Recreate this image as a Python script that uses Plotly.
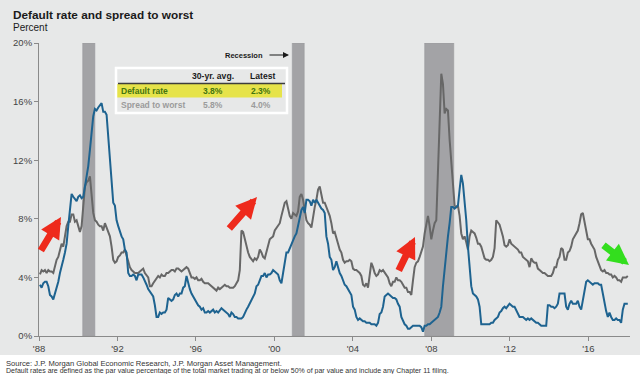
import pandas as pd
import plotly.graph_objects as go

# ---------------- data (percent) ----------------
default_rate = [
    3.5, 3.3, 3.6, 3.7, 3.7, 3.4, 2.8, 2.7, 2.5, 2.9, 3.4, 3.7, 4.3, 4.7, 5.2, 5.7, 6.3, 7.5, 8.4, 9.7,
    9.5, 9.3, 9.2, 9.5, 9.6, 9.4, 9.5, 10.2, 10.9, 11.6, 12.7, 13.8, 15.0, 15.5, 15.4, 15.6, 15.8, 15.9, 15.3, 15.3,
    15.1, 13.6, 12.0, 10.6, 9.1, 8.9, 7.9, 7.5, 7.1, 6.8, 6.6, 5.9, 5.7, 4.3, 4.1, 4.1, 4.2, 4.1,
    3.8, 4.2, 4.2, 4.2, 4.0, 3.8, 3.5, 3.2, 3.0, 2.9, 2.7, 2.1, 1.3, 1.3, 1.6, 1.5, 1.6, 1.6, 1.8, 2.6,
    2.5, 2.4, 2.5, 2.8, 2.9, 2.7, 2.9, 2.9, 3.3, 3.4, 4.1, 3.6, 3.2, 2.9, 2.7, 2.5, 2.2, 2.1, 2.0, 1.8,
    1.9, 1.6, 1.6, 1.7, 1.6, 1.7, 1.8, 1.6, 1.7, 1.6, 1.8, 1.9, 1.8, 1.7, 1.6, 1.5, 1.3,
    1.6, 1.5, 1.3, 1.3, 1.2, 1.2, 1.2, 1.3, 1.6, 1.8, 2.0, 2.2, 2.5, 2.7, 2.9, 3.4, 3.5, 3.8, 4.1, 4.1,
    4.3, 4.0, 4.2, 4.2, 4.3, 4.5, 4.4, 4.3, 4.2, 3.8, 3.6, 4.3, 5.0, 5.7, 5.7, 6.0, 6.3, 6.6, 6.8, 7.0,
    7.5, 7.9, 8.6, 8.8, 8.4, 9.3, 9.3, 9.2, 8.9, 9.3, 9.1, 9.3, 9.1, 8.8, 8.7, 8.6, 8.4,
    6.8, 6.3, 5.4, 5.2, 4.5, 4.7, 5.1, 4.7, 4.3, 4.1, 3.8, 3.5, 3.4, 3.2, 2.9, 2.8, 2.0, 1.8, 1.3, 1.1,
    1.2, 1.1, 1.0, 1.0, 0.9, 0.9, 0.9, 0.8, 0.8, 0.8, 0.7, 0.9, 1.5, 1.6, 2.0, 2.7, 2.8, 2.9, 2.8, 2.7,
    2.6, 2.6, 2.5, 2.2, 2.0, 1.3, 1.0, 0.8, 0.7, 0.5, 0.5, 0.6, 0.7, 0.7, 0.7, 0.7, 0.7,
    0.6, 0.3, 0.7, 0.7, 0.8, 0.8, 0.9, 1.0, 1.1, 1.2, 1.3, 1.6, 2.0, 3.4, 4.7, 5.7, 6.8, 7.7, 8.8, 8.8,
    8.7, 8.8, 8.9, 10.0, 11.0, 10.4, 9.3, 7.9, 6.1, 4.5, 3.4, 2.9, 2.8, 2.7, 2.5, 2.0, 0.8, 0.8, 0.8, 0.8,
    0.8, 0.8, 0.9, 0.9, 1.1, 1.2, 1.3, 1.6, 1.7, 1.9, 2.0, 1.9, 2.1, 2.2, 2.1, 2.0, 2.0,
    1.8, 1.6, 1.3, 1.3, 1.3, 1.2, 1.1, 1.2, 1.1, 1.2, 1.1, 1.0, 0.9, 0.9, 0.8, 0.7, 0.7, 0.7, 0.7, 2.1,
    2.1, 2.0, 2.0, 1.9, 2.0, 2.2, 2.9, 2.9, 2.9, 2.9, 2.0, 1.8, 2.2, 2.4, 2.2, 2.2, 2.2, 2.4, 2.0, 1.8,
    2.5, 3.2, 3.7, 3.8, 3.7, 3.6, 3.5, 3.6, 3.6, 3.6, 3.5, 3.5, 2.9, 2.2, 1.7, 1.3, 1.6, 1.3, 1.1, 1.1,
    1.2, 1.1, 1.1, 0.9, 1.8, 2.2, 2.2, 2.2,
]

spread_to_worst = [
    4.2, 4.5, 4.4, 4.5, 4.3, 4.5, 4.4, 4.4, 4.3, 4.7, 5.2, 5.4, 5.9, 6.3, 6.1, 7.0, 7.5, 7.8, 7.8, 8.3,
    8.3, 7.8, 7.9, 7.5, 7.1, 7.5, 8.8, 10.2, 10.5, 10.6, 10.9, 9.5, 8.4, 7.9, 7.8, 7.6, 7.5, 7.5, 7.2, 7.7,
    7.4, 7.0, 6.8, 6.1, 5.2, 5.0, 5.1, 5.4, 5.5, 5.7, 5.7, 5.9, 5.5, 5.2, 4.7, 4.5, 4.4, 4.3,
    4.3, 4.3, 4.4, 4.5, 4.6, 4.3, 4.1, 4.0, 3.4, 3.4, 3.6, 3.8, 4.0, 4.1, 4.0, 4.2, 4.1, 4.1, 4.3, 4.3,
    4.4, 4.5, 4.5, 4.4, 4.6, 4.6, 4.5, 4.4, 4.5, 4.6, 4.7, 4.6, 4.3, 4.0, 4.0, 3.9, 4.0, 3.8, 3.8, 3.9,
    3.7, 3.6, 3.6, 3.6, 3.5, 3.4, 3.3, 3.2, 3.1, 3.3, 3.2, 3.3, 3.4, 3.5, 3.4, 3.4, 3.3,
    3.3, 3.3, 3.4, 3.6, 3.8, 4.5, 7.2, 7.1, 6.6, 6.1, 5.7, 5.4, 5.2, 5.1, 5.3, 5.2, 5.4, 5.9, 5.7, 5.4,
    5.3, 5.7, 6.1, 6.6, 6.7, 6.8, 7.2, 7.4, 7.5, 7.7, 8.2, 8.7, 9.1, 9.2, 8.6, 8.2, 8.0, 8.4, 8.3, 8.2,
    8.5, 9.5, 9.7, 9.3, 8.6, 7.9, 7.7, 7.6, 7.4, 8.2, 8.8, 9.3, 10.0, 10.2, 9.7, 9.1, 9.1,
    8.8, 8.6, 8.2, 7.7, 7.0, 7.1, 6.7, 6.3, 5.9, 5.7, 5.2, 5.0, 5.1, 5.1, 5.2, 5.1, 4.6, 4.5, 4.5, 4.4,
    4.3, 4.1, 3.5, 3.4, 3.6, 3.3, 4.1, 5.0, 4.7, 4.3, 4.1, 4.2, 4.5, 4.4, 4.5, 4.3, 4.1, 4.0, 3.6, 3.4,
    3.7, 3.7, 4.0, 3.8, 3.8, 3.7, 3.5, 3.3, 3.3, 3.0, 3.0, 2.8, 3.8, 4.7, 5.0, 5.1, 5.4,
    5.7, 6.1, 7.0, 7.7, 8.2, 7.5, 6.6, 7.2, 7.7, 7.9, 11.1, 14.9, 17.9, 17.2, 15.2, 15.5, 15.4, 13.4, 11.8, 10.6,
    8.9, 8.8, 8.9, 8.2, 7.0, 6.6, 6.8, 6.4, 5.9, 6.8, 7.2, 7.1, 7.0, 6.7, 6.3, 6.3, 6.1, 5.7, 5.3, 5.2,
    5.2, 5.1, 5.2, 5.4, 6.0, 7.9, 7.7, 7.6, 7.2, 6.8, 6.2, 6.1, 6.2, 6.6, 6.3, 6.2, 6.1,
    6.0, 5.9, 5.7, 5.7, 5.4, 5.3, 5.2, 5.1, 4.7, 5.3, 5.1, 5.0, 5.0, 4.6, 4.5, 4.4, 4.3, 4.3, 4.2, 4.1,
    4.1, 4.1, 4.3, 4.7, 4.7, 5.2, 5.4, 6.0, 5.9, 5.2, 5.2, 5.7, 5.8, 6.1, 6.6, 6.8, 7.1, 7.2, 7.7, 8.3,
    8.4, 7.9, 7.2, 6.6, 6.6, 6.3, 6.1, 5.9, 5.4, 5.1, 4.7, 4.5, 4.4, 4.5, 4.3, 4.3, 4.2, 4.2, 4.0, 4.1,
    4.0, 3.8, 3.8, 3.7, 4.0, 4.0, 4.0, 4.1,
]

obs_dates = pd.date_range("1988-01-19", periods=len(default_rate), freq="31D")

recession_starts = ["1990-03-25", "2000-11-28", "2007-08-29"]
recession_ends = ["1990-11-06", "2001-07-08", "2009-02-20"]

x_tick_dates = ["1988-01-01", "1992-01-01", "1996-01-01", "2000-01-01",
                "2004-01-01", "2008-01-01", "2012-01-01", "2016-01-01"]
x_tick_labels = ["'88", "'92", "'96", "'00", "'04", "'08", "'12", "'16"]
y_tick_values = [0, 4, 8, 12, 16, 20]
y_tick_labels = ["0%", "4%", "8%", "12%", "16%", "20%"]

table_header = ["30-yr. avg.", "Latest"]
table_series = ["Default rate", "Spread to worst"]
table_avg = ["3.8%", "5.8%"]
table_latest = ["2.3%", "4.0%"]

source_text = "Source: J.P. Morgan Global Economic Research, J.P. Morgan Asset Management."
note_text = ("Default rates are defined as the par value percentage of the total market trading "
             "at or below 50% of par value and include any Chapter 11 filing.")

# ---------------- layout helpers ----------------
W, H = 640, 374
L, R, T, B = 39, 10, 43, 38
PW, PH = W - L - R, H - T - B
FONT = "Arial, Liberation Sans, sans-serif"
BG = "#e7e8e8"


def xp(px):
    return (px - L) / PW


def yp(py):
    return (H - B - py) / PH


fig = go.Figure()
fig.add_trace(go.Scatter(x=obs_dates, y=spread_to_worst, mode="lines",
                         line=dict(color="#676767", width=2), name="Spread to worst",
                         hoverinfo="skip"))
fig.add_trace(go.Scatter(x=obs_dates, y=default_rate, mode="lines",
                         line=dict(color="#1e6390", width=2), name="Default rate",
                         hoverinfo="skip"))

shapes = []
for s, e in zip(recession_starts, recession_ends):
    shapes.append(dict(type="rect", xref="x", yref="y", x0=s, x1=e, y0=0, y1=20,
                       fillcolor="#a3a3a6", line=dict(color="#9a9a9d", width=0.6),
                       layer="below"))

# white footer band
shapes.append(dict(type="rect", xref="paper", yref="paper", x0=xp(-5), x1=xp(650),
                   y0=yp(380), y1=yp(355), fillcolor="white", line=dict(width=0),
                   layer="above"))
# table
shapes.append(dict(type="rect", xref="paper", yref="paper", x0=xp(117), x1=xp(282),
                   y0=yp(97.5), y1=yp(84), fillcolor="#e6e34a", line=dict(width=0),
                   layer="above"))
shapes.append(dict(type="line", xref="paper", yref="paper", x0=xp(118), x1=xp(285),
                   y0=yp(83.5), y1=yp(83.5), line=dict(color="#3d3d3d", width=1.3),
                   layer="above"))
shapes.append(dict(type="rect", xref="paper", yref="paper", x0=xp(116), x1=xp(287),
                   y0=yp(113), y1=yp(68), fillcolor="rgba(0,0,0,0)",
                   line=dict(color="white", width=2.5), layer="above"))

annotations = []


def txt(text, x, y, size, color="#222", bold=False, xanchor="left"):
    annotations.append(dict(
        text=f"<b>{text}</b>" if bold else text, xref="paper", yref="paper",
        x=xp(x), y=yp(y), xanchor=xanchor, yanchor="middle", showarrow=False,
        font=dict(family=FONT, size=size, color=color)))


txt("Default rate and spread to worst", 11, 15, 11.8, "#1a1a1a", bold=True)
txt("Percent", 11, 28, 10, "#1a1a1a")

# table text
txt(table_header[0], 213, 76, 8.6, "#1a1a1a", bold=True, xanchor="center")
txt(table_header[1], 262, 76, 8.6, "#1a1a1a", bold=True, xanchor="center")
row_colors = ["#437510", "#9b9b9b"]
row_ys = [91, 105]
for name, avg, last, col, yy in zip(table_series, table_avg, table_latest, row_colors, row_ys):
    txt(name, 119, yy, 8.5, col, bold=True)
    txt(avg, 213, yy, 8.5, col, bold=True, xanchor="center")
    txt(last, 261, yy, 8.5, col, bold=True, xanchor="center")

# recession label
txt("Recession", 244, 55, 7.5, "#1a1a1a", bold=True, xanchor="center")
annotations.append(dict(text="", xref="paper", yref="paper", x=xp(289), y=yp(55),
                        ax=-21, ay=0, showarrow=True, arrowhead=2, arrowsize=1,
                        arrowwidth=1.2, arrowcolor="#1a1a1a"))

# source + note
txt(source_text, 4, 363.5, 7.6, "#333")
txt(note_text, 4, 370.5, 7, "#333")

# highlight arrows
arrow_specs = [
    ((61, 217), (-21, 35), "#ee2a1c"),
    ((257, 197), (-29, 33), "#ee2a1c"),
    ((415, 237), (-17, 35), "#ee2a1c"),
    ((629, 265), (-27, -21), "#33de1e"),
]
for (tx, ty), (dx, dy), col in arrow_specs:
    annotations.append(dict(text="", xref="paper", yref="paper", x=xp(tx), y=yp(ty),
                            ax=dx, ay=dy, showarrow=True, arrowhead=2, arrowsize=0.6,
                            arrowwidth=7, arrowcolor=col))

fig.update_layout(
    width=W, height=H,
    margin=dict(l=L, r=R, t=T, b=B, pad=0),
    paper_bgcolor=BG, plot_bgcolor=BG,
    showlegend=False,
    shapes=shapes, annotations=annotations,
    font=dict(family=FONT, size=9.5, color="#444"),
    xaxis=dict(type="date", range=["1988-01-01", "2018-02-14"],
               tickmode="array", tickvals=x_tick_dates, ticktext=x_tick_labels,
               showgrid=False, zeroline=False, showline=True, linecolor="#8a8a8a",
               linewidth=1, ticks="outside", ticklen=4, tickcolor="#8a8a8a",
               tickfont=dict(family=FONT, size=9.5, color="#444")),
    yaxis=dict(range=[0, 20], tickmode="array", tickvals=y_tick_values,
               ticktext=y_tick_labels, showgrid=False, zeroline=False, showline=True,
               linecolor="#8a8a8a", linewidth=1, ticks="outside", ticklen=4,
               tickcolor="#8a8a8a", tickfont=dict(family=FONT, size=9.5, color="#444")),
)

fig.write_html("out.html", config={"displayModeBar": False},
               post_script="document.body.style.margin='0px';document.body.style.padding='0px';")
